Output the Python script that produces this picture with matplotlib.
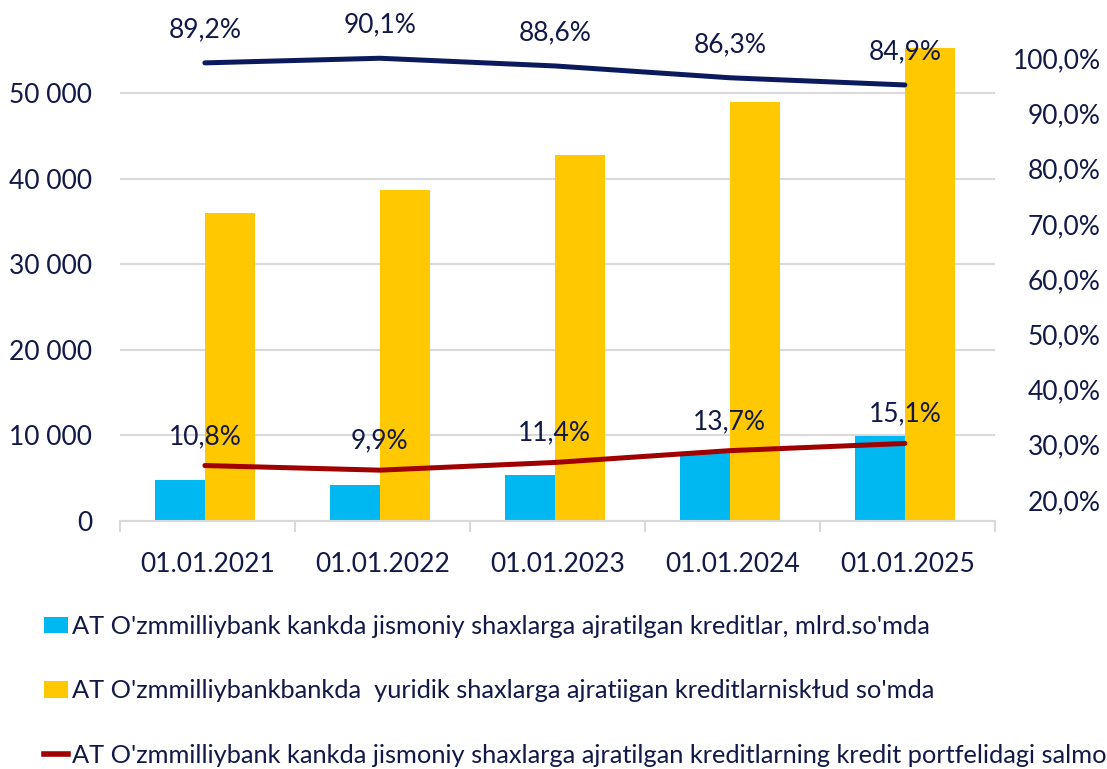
import numpy as np
import matplotlib
matplotlib.use("Agg")
import matplotlib.pyplot as plt
from matplotlib.patches import Patch
from matplotlib.lines import Line2D
from matplotlib.ticker import FuncFormatter, FixedLocator

plt.rcParams['font.family'] = ['Lato', 'DejaVu Sans']

# data
dates = ['01.01.2021', '01.01.2022', '01.01.2023', '01.01.2024', '01.01.2025']
individual_loans = [4800, 4200, 5400, 8100, 9900]
legal_loans = [36000, 38700, 42800, 48900, 55200]
legal_share = [89.2, 90.1, 88.6, 86.3, 84.9]
individual_share = [10.8, 9.9, 11.4, 13.7, 15.1]
left_ticks = [0, 10000, 20000, 30000, 40000, 50000]
right_ticks = [20, 30, 40, 50, 60, 70, 80, 90, 100]

legend_labels = [
    "AT O'zmmilliybank kankda jismoniy shaxlarga ajratilgan kreditlar, mlrd.so'mda",
    "AT O'zmmilliybankbankda  yuridik shaxlarga ajratiigan kreditlarniskɫud so'mda",
    "AT O'zmmilliybank kankda jismoniy shaxlarga ajratilgan kreditlarning kredit portfelidagi salmog'i",
]

c_blue = '#00B8F1'
c_yellow = '#FFC800'
c_navy = '#0B1A5C'
c_red = '#A00000'
c_text = '#121848'
c_grid = '#D9D9D9'

W, H = 1107, 769
fig = plt.figure(figsize=(W / 100, H / 100), dpi=100)
ax = fig.add_axes([120 / W, 1 - 521 / H, 875 / W, 513.6 / H])

x = np.arange(len(dates))
bw = 0.285
shift = -0.015
ax.bar(x + shift - bw / 2, individual_loans, bw, color=c_blue, zorder=2)
ax.bar(x + shift + bw / 2, legal_loans, bw, color=c_yellow, zorder=2)

ax.set_xlim(-0.5, 4.5)
ax.set_ylim(0, 60000)
ax.set_yticks(left_ticks)
ax.yaxis.set_major_formatter(FuncFormatter(lambda v, p: f"{int(v):,}".replace(',', ' ')))
ax.grid(axis='y', color=c_grid, linewidth=1.5, zorder=0)
ax.tick_params(axis='y', length=0, pad=20, labelsize=19, labelcolor=c_text)
ax.set_xticks(x)
ax.set_xticklabels(dates)
ax.tick_params(axis='x', length=0, pad=22, labelsize=19, labelcolor=c_text)
ax.xaxis.set_minor_locator(FixedLocator(np.arange(-0.5, 5, 1)))
ax.tick_params(axis='x', which='minor', length=8, width=1.5, color=c_grid)
for s in ['top', 'right', 'left']:
    ax.spines[s].set_visible(False)
ax.spines['bottom'].set_color(c_grid)
ax.spines['bottom'].set_linewidth(1.5)

# lines (share, %)
ax2 = ax.twinx()
ax2.set_ylim(0, 100)
ax2.set_yticks([])
for s in ax2.spines.values():
    s.set_visible(False)
ax2.plot(x + shift, legal_share, color=c_navy, linewidth=3.6, solid_capstyle='round', zorder=3)
ax2.plot(x + shift, individual_share, color=c_red, linewidth=3.6, solid_capstyle='round', zorder=3)
for xi, v in zip(x, legal_share):
    ax2.annotate(f"{v:.1f}%".replace('.', ','), (xi + shift, v), xytext=(0, 24),
                 textcoords='offset points', ha='center', va='center', fontsize=19, color=c_text)
for xi, v in zip(x, individual_share):
    ax2.annotate(f"{v:.1f}%".replace('.', ','), (xi + shift, v), xytext=(0, 21),
                 textcoords='offset points', ha='center', va='center', fontsize=19, color=c_text)

# right percentage scale
ax3 = ax.twinx()
ax3.set_ylim(16.2, 109.2)
ax3.set_yticks(right_ticks)
ax3.set_yticklabels([f"{t:.1f}%".replace('.', ',') for t in right_ticks])
ax3.tick_params(axis='y', length=0, pad=76, labelsize=19, labelcolor=c_text)
for lab in ax3.get_yticklabels():
    lab.set_ha('right')
for s in ax3.spines.values():
    s.set_visible(False)

handles = [
    Patch(facecolor=c_blue),
    Patch(facecolor=c_yellow),
    Line2D([0], [0], color=c_red, linewidth=4),
]
fig.legend(handles, legend_labels, loc='upper left', bbox_to_anchor=(44 / W, 1 - 615 / H),
           frameon=False, fontsize=18.3, labelcolor=c_text, handlelength=0.95,
           handleheight=0.6, handletextpad=0.15, labelspacing=1.63, borderpad=0, borderaxespad=0)

fig.savefig('out.png', dpi=100)
